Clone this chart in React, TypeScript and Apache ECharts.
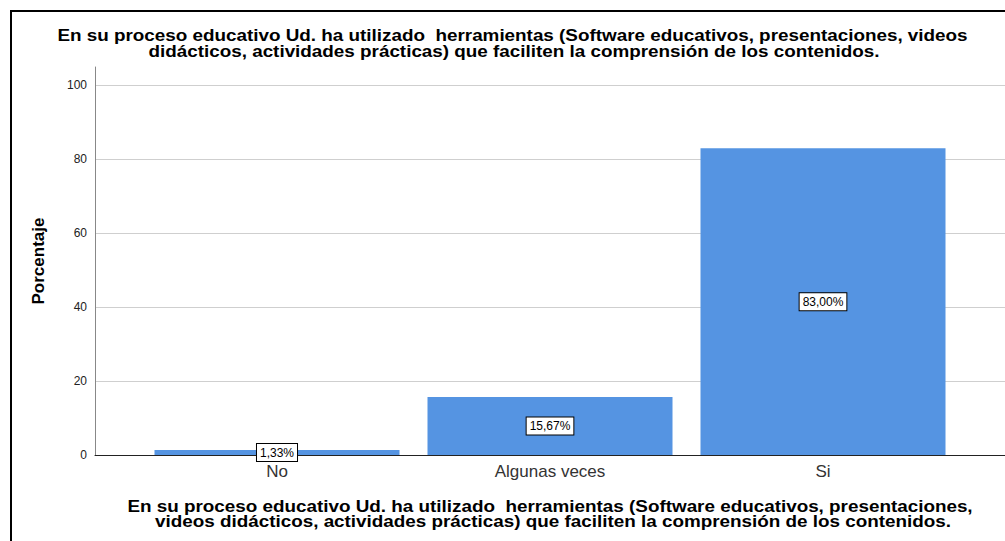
import React, { useEffect, useRef } from "react";
import * as echarts from "echarts";

const categories = ["No", "Algunas veces", "Si"];
const percentages = [1.33, 15.67, 83.0];
const yTicks = [0, 20, 40, 60, 80, 100];
const titleLines = [
  "En su proceso educativo Ud. ha utilizado  herramientas (Software educativos, presentaciones, videos",
  "didácticos, actividades prácticas) que faciliten la comprensión de los contenidos.",
];
const xTitleLines = [
  "En su proceso educativo Ud. ha utilizado  herramientas (Software educativos, presentaciones,",
  "videos didácticos, actividades prácticas) que faciliten la comprensión de los contenidos.",
];
const yName = "Porcentaje";

const FONT = "'Liberation Sans', Arial, sans-serif";

function titleText(text: string, cx: number, cy: number) {
  return {
    type: "text",
    x: cx,
    y: cy,
    scaleX: 1.11,
    silent: true,
    style: {
      x: 0,
      y: 0,
      text,
      textAlign: "center",
      textVerticalAlign: "middle",
      font: `bold 17px ${FONT}`,
      fill: "#000",
    },
  };
}

export default function App() {
  const ref = useRef<HTMLDivElement>(null);
  useEffect(() => {
    document.body.style.margin = "0";
    const chart = echarts.init(ref.current!, undefined, { renderer: "svg" });
    const yMax = 105;
    chart.setOption({
      animation: false,
      backgroundColor: "#ffffff",
      textStyle: { fontFamily: FONT },
      grid: [
        { left: 95, top: 67, width: 910, height: 388, containLabel: false },
        { left: 140.5, top: 67, width: 819, height: 388, containLabel: false },
      ],
      xAxis: [
        {
          type: "value",
          gridIndex: 0,
          min: 0,
          max: 1,
          axisLabel: { show: false },
          axisTick: { show: false },
          splitLine: { show: false },
          axisLine: { show: true, onZero: false, lineStyle: { color: "#222", width: 1 } },
        },
        {
          type: "category",
          gridIndex: 1,
          data: categories,
          axisLine: { show: false },
          axisTick: { show: false },
          axisLabel: { margin: 8, fontSize: 17, color: "#333", fontFamily: FONT },
        },
      ],
      yAxis: [
        {
          type: "value",
          gridIndex: 0,
          min: 0,
          max: yMax,
          interval: 20,
          name: yName,
          nameLocation: "middle",
          nameGap: 48,
          nameTextStyle: { fontFamily: FONT, fontSize: 17, fontWeight: "bold", color: "#000" },
          axisLine: { show: true, lineStyle: { color: "#888", width: 1 } },
          axisTick: { show: false },
          axisLabel: {
            showMaxLabel: false,
            fontSize: 12,
            color: "#222",
            margin: 8,
            formatter: (v: number) => (yTicks.includes(v) ? String(v) : ""),
          },
          splitLine: { show: true, showMaxLine: false, lineStyle: { color: "#cfcfcf", width: 1 } },
        },
        {
          type: "value",
          gridIndex: 1,
          min: 0,
          max: yMax,
          show: false,
          splitLine: { show: false },
        },
      ],
      series: [
        {
          type: "bar",
          xAxisIndex: 1,
          yAxisIndex: 1,
          data: percentages,
          barWidth: 245,
          itemStyle: { color: "#5594e2" },
          label: {
            show: true,
            position: "inside",
            formatter: (p: any) => p.value.toFixed(2).replace(".", ",") + "%",
            fontFamily: FONT,
            fontSize: 12,
            color: "#000",
            backgroundColor: "#fff",
            borderColor: "#000",
            borderWidth: 1,
            padding: [3, 3, 2, 3],
          },
        },
      ],
      graphic: [
        {
          type: "rect",
          shape: { x: 11, y: 11, width: 1100, height: 700 },
          style: { fill: "none", stroke: "#000", lineWidth: 2 },
          silent: true,
        },
        titleText(titleLines[0], 512.5, 35.5),
        titleText(titleLines[1], 514, 51.5),
        titleText(xTitleLines[0], 550, 506),
        titleText(xTitleLines[1], 553, 521.5),
      ],
    });
    return () => chart.dispose();
  }, []);
  return <div ref={ref} style={{ width: 1005, height: 541 }} />;
}
